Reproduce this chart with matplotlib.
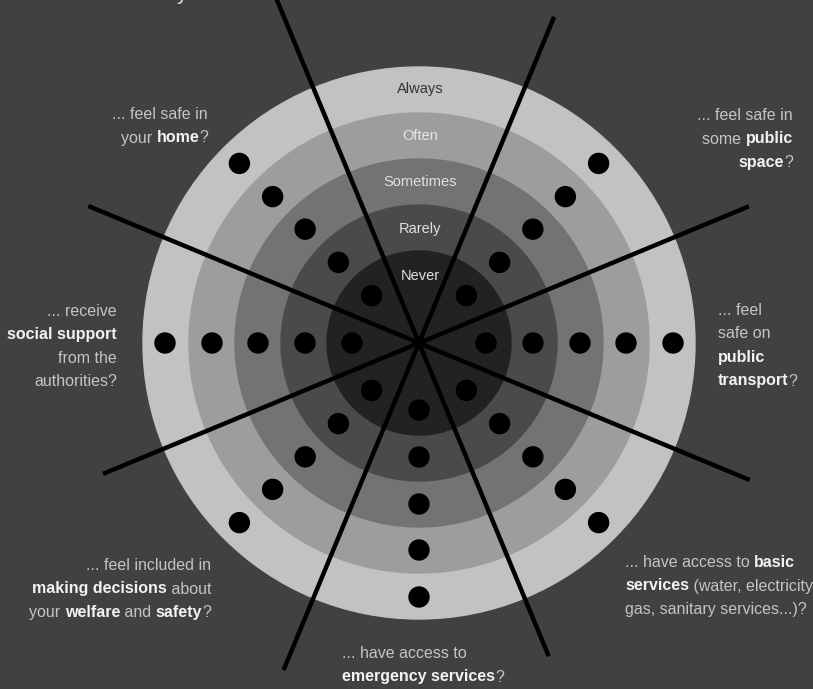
import numpy as np
import matplotlib
matplotlib.use('Agg')
import matplotlib.pyplot as plt
from matplotlib.patches import Circle
from matplotlib import font_manager

# pick a narrow face if one exists, else Liberation Sans
installed = {f.name for f in font_manager.fontManager.ttflist}
if 'Liberation Sans Narrow' in installed:
    family, fs, ring_fs = 'Liberation Sans Narrow', 13.5, 12
else:
    family, fs, ring_fs = 'Liberation Sans', 11.5, 10.5
plt.rcParams['font.family'] = [family, 'DejaVu Sans']

# rings from inside out
levels = ['Never', 'Rarely', 'Sometimes', 'Often', 'Always']
ring_colors = ['#222222', '#4a4a4a', '#737371', '#9d9d9b', '#c2c2c0']
ring_label_colors = ['#e0e0e0', '#e0e0e0', '#e0e0e0', '#e6e6e6', '#333333']
ring_outer = [92, 138, 184, 230, 276]
dot_radius = [67, 114, 161, 207, 254]

# directions (degrees, counter-clockwise from east) that carry a dot on every ring
dot_angles = [0, 45, 135, 180, 225, 270, 315]

# spokes: angle of each half-line and its length from the centre
spoke_angles = [22.5, 67.5, 112.5, 157.5, 202.5, 247.5, 292.5, 337.5]
spoke_lengths = [357, 353, 380, 358, 342, 354, 339, 358]

# questions: lines of (text, bold) segments
questions = [
    dict(x=208, y=119, ha='right', lines=[
        [('... feel safe in', False)],
        [('your ', False), ('home', True), ('?', False)]]),
    dict(x=793, y=120, ha='right', lines=[
        [('... feel safe in', False)],
        [('some ', False), ('public', True)],
        [('space', True), ('?', False)]]),
    dict(x=117, y=316, ha='right', lines=[
        [('... receive', False)],
        [('social support', True)],
        [('from the', False)],
        [('authorities?', False)]]),
    dict(x=718, y=315, ha='left', lines=[
        [('... feel', False)],
        [('safe on', False)],
        [('public', True)],
        [('transport', True), ('?', False)]]),
    dict(x=211, y=570, ha='right', lines=[
        [('... feel included in', False)],
        [('making decisions', True), (' about', False)],
        [('your ', False), ('welfare', True), (' and ', False), ('safety', True), ('?', False)]]),
    dict(x=625, y=567, ha='left', lines=[
        [('... have access to ', False), ('basic', True)],
        [('services', True), (' (water, electricity', False)],
        [('gas, sanitary services...)?', False)]]),
    dict(x=342, y=658, ha='left', lines=[
        [('... have access to', False)],
        [('emergency services', True), ('?', False)]]),
]

cx, cy = 419, 343
bg = '#414143'
line_gap = 23.5

fig = plt.figure(figsize=(8.13, 6.89), dpi=100, facecolor=bg)
ax = fig.add_axes([0, 0, 1, 1])
ax.set_xlim(0, 813)
ax.set_ylim(689, 0)
ax.set_facecolor(bg)
ax.axis('off')

# rings, outermost first
for r, c in reversed(list(zip(ring_outer, ring_colors))):
    ax.add_patch(Circle((cx, cy), r, color=c, zorder=1))

# spokes
for a, L in zip(spoke_angles, spoke_lengths):
    t = np.deg2rad(a)
    ax.plot([cx, cx + L * np.cos(t)], [cy, cy - L * np.sin(t)],
            color='black', lw=3.2, solid_capstyle='butt', zorder=2)

# dots
for a in dot_angles:
    t = np.deg2rad(a)
    for r in dot_radius:
        ax.add_patch(Circle((cx + r * np.cos(t), cy - r * np.sin(t)), 10,
                            color='black', zorder=3))

# ring labels in the top sector
for lab, r, c in zip(levels, dot_radius, ring_label_colors):
    ax.text(cx + 1, cy - r, lab, ha='center', va='center', fontsize=ring_fs,
            color=c, zorder=4)

# cut-off title at the top edge
ax.text(177, -1, 'y', ha='left', va='baseline', fontsize=fs + 4,
        color='#e0e0e0')

renderer = fig.canvas.get_renderer()


def seg_width(s, bold):
    w = 'bold' if bold else 'normal'
    t1 = ax.text(0, 0, '|' + s + '|', fontsize=fs, fontweight=w)
    t2 = ax.text(0, 0, '||', fontsize=fs, fontweight=w)
    width = t1.get_window_extent(renderer).width - t2.get_window_extent(renderer).width
    t1.remove()
    t2.remove()
    return width


for q in questions:
    for i, line in enumerate(q['lines']):
        widths = [seg_width(s, b) for s, b in line]
        total = sum(widths)
        if q['ha'] == 'right':
            x = q['x'] - total
        elif q['ha'] == 'center':
            x = q['x'] - total / 2
        else:
            x = q['x']
        y = q['y'] + i * line_gap
        for (s, b), w in zip(line, widths):
            ax.text(x, y, s, ha='left', va='baseline', fontsize=fs,
                    fontweight='bold' if b else 'normal',
                    color='#f2f2f2' if b else '#c4c4c4', zorder=4)
            x += w

fig.savefig('out.png', dpi=100, facecolor=bg)
